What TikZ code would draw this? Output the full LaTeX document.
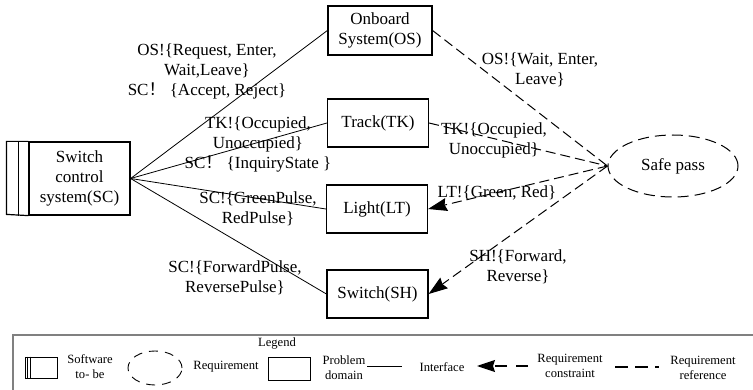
\documentclass[tikz,border=0pt]{standalone}
\usepackage{fontspec}
\setmainfont{Liberation Serif}
\newfontfamily\cjk{Noto Sans CJK SC}
\usetikzlibrary{arrows.meta,calc,shapes.geometric}
\newcommand\mainfs{\fontsize{17}{20}\selectfont}
\newcommand\legfs{\fontsize{12.6}{15}\selectfont}
\begin{document}
\begin{tikzpicture}[x=1pt,y=-1pt,
  box/.style={draw, line width=1.2pt, inner sep=0pt, align=center, font=\mainfs},
  lbl/.style={align=center, inner sep=0pt, font=\mainfs},
  iface/.style={line width=0.8pt},
  reqref/.style={line width=1pt, dash pattern=on 10pt off 5pt},
  reqcon/.style={reqref, -{Stealth[length=19pt,width=13pt,inset=2pt]}},
  leg/.style={align=center, inner sep=0pt, font=\legfs},
  legshape/.style={draw, line width=0.9pt, inner sep=0pt},
]
\useasboundingbox (0,0) rectangle (753,390);
\clip (0,0) rectangle (753,390);

% main nodes
\node[box, minimum width=101pt, minimum height=73pt] (SC) at (79.5,178.5) {Switch\\control\\system(SC)};
\draw[line width=1.2pt] (SC.north west) -- ++(-22,0) -- ++(0,73) -- (SC.south west);
\draw[line width=1.2pt] ($(SC.north west)+(-10,0)$) -- ($(SC.south west)+(-10,0)$);

\node[box, minimum width=104pt, minimum height=49pt] (OS) at (380,30.5) {Onboard\\System(OS)};
\node[box, minimum width=101pt, minimum height=48pt] (TK) at (378,123) {Track(TK)};
\node[box, minimum width=101pt, minimum height=48pt] (LT) at (377,209) {Light(LT)};
\node[box, minimum width=101pt, minimum height=48pt] (SH) at (377.5,294) {Switch(SH)};
\node[ellipse, draw, line width=1pt, dash pattern=on 11pt off 6pt, minimum width=130pt, minimum height=62pt, inner sep=0pt, font=\mainfs] (SP) at (673,166) {Safe pass};

% interfaces
\draw[iface] (SC.east) -- (OS.west);
\draw[iface] (SC.east) -- (TK.west);
\draw[iface] (SC.east) -- (LT.west);
\draw[iface] (SC.east) -- (SH.west);

% requirement references / constraints
\draw[reqref] (OS.east) -- (SP.west);
\draw[reqref] (TK.east) -- (SP.west);
\draw[reqcon] (SP.west) -- (LT.east);
\draw[reqcon] (SP.west) -- (SH.east);

% labels
\node[lbl] (l1) at (207,71) {OS!\{Request, Enter,\\Wait,Leave\}\\SC{\cjk ！} \{Accept, Reject\}};
\node[lbl] (l2) at (258,144) {TK!\{Occupied,\\Unoccupied\}\\SC{\cjk ！} \{InquiryState \}};
\node[lbl] (l3) at (258,209) {SC!\{GreenPulse,\\RedPulse\}};
\node[lbl] (l4) at (235,278) {SC!\{ForwardPulse,\\ReversePulse\}};
\node[lbl] (r1) at (540,70) {OS!\{Wait, Enter,\\Leave\}};
\node[lbl] (r2) at (494,140) {TK!\{Occupied,\\Unoccupied\}};
\node[lbl] (r3) at (497,193) {LT!\{Green, Red\}};
\node[lbl] (r4) at (518,267) {SH!\{Forward,\\Reverse\}};

% legend
\draw[gray, line width=1.5pt] (13,395) -- (13,335) -- (760,335);
\node[leg] (legtitle) at (277,343) {Legend};
\node[legshape, minimum width=32pt, minimum height=21pt] (legsw) at (41,367.5) {};
\draw[line width=0.9pt] ($(legsw.north west)+(3,0)$) -- ($(legsw.south west)+(3,0)$);
\draw[line width=0.9pt] ($(legsw.north west)+(6,0)$) -- ($(legsw.south west)+(6,0)$);
\node[leg] (legswt) at (90,367) {Software\\to- be};
\node[legshape, ellipse, dash pattern=on 9pt off 7pt, minimum width=54pt, minimum height=34pt] (legreq) at (155,368) {};
\node[leg] (legreqt) at (226,367) {Requirement};
\node[legshape, minimum width=42pt, minimum height=23pt] (legpd) at (289.5,368.5) {};
\node[leg] (legpdt) at (344,368) {Problem\\domain};
\coordinate (ifa) at (367,366);
\coordinate (ifb) at (402,366);
\draw[iface, line width=1pt] (ifa) -- (ifb);
\node[leg] (legift) at (442,367) {Interface};
\coordinate (rca) at (528,366);
\coordinate (rcb) at (477,366);
\draw[reqcon, line width=1.1pt, dash pattern=on 12pt off 9pt, -{Stealth[length=18pt,width=12pt,inset=2pt]}] (rca) -- (rcb);
\node[leg] (legrct) at (570,366) {Requirement\\constraint};
\coordinate (rra) at (615,367);
\coordinate (rrb) at (659,367);
\draw[reqref, line width=1.1pt, dash pattern=on 13pt off 7pt] (rra) -- (rrb);
\node[leg] (legrrt) at (703,368) {Requirement\\reference};
\end{tikzpicture}
\end{document}
